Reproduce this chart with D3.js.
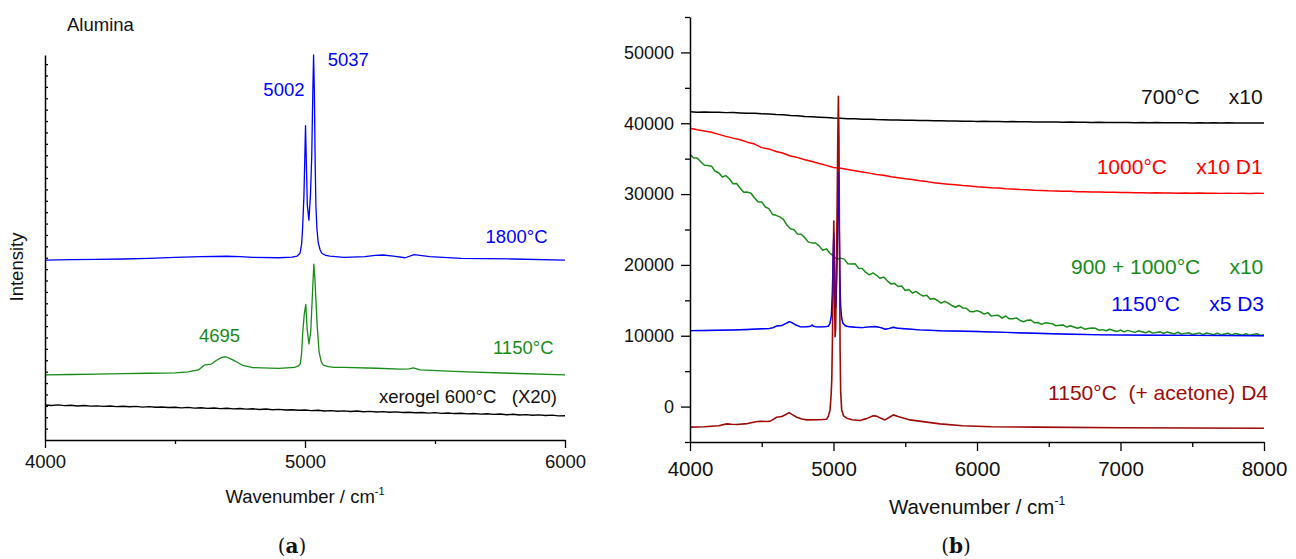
<!DOCTYPE html>
<html>
<head>
<meta charset="utf-8">
<script src="https://cdn.jsdelivr.net/npm/d3@7"></script>
<style>
  body { margin: 0; background: #fff; }
  svg { font-family: "Liberation Sans", Arial, sans-serif; }
  .lbl { white-space: pre; }
</style>
</head>
<body>
<div id="chart"></div>
<script>
// ---------- data, panel (a): Alumina, arbitrary intensity ----------
const ticksA = [4000, 5000, 6000];
const minorA = [4500, 5500];
const a1800 = [[4000,15.80],[4100,15.83],[4200,15.86],[4300,15.89],[4400,15.95],[4500,16.04],[4600,16.10],
  [4700,16.13],[4750,16.10],[4800,16.04],[4900,16.00],[4950,16.05],[4970,16.15],[4981,16.4],[4987,17.2],
  [4991,18.7],[4996,21.5],[5000,25.5],[5002,27.6],[5005,24.5],[5009,20.6],[5015,19.3],[5021,21.5],[5026,25.0],
  [5030,30.5],[5033,33.8],[5036,30.5],[5039,24.5],[5042,20.5],[5046,18.5],[5051,17.3],[5058,16.7],[5064,16.42],
  [5080,16.2],[5096,16.15],[5150,16.04],[5230,16.10],[5270,16.20],[5300,16.24],[5340,16.15],[5385,16.00],
  [5420,16.27],[5480,16.10],[5600,15.95],[5800,15.89],[6000,15.80]];
const a1150 = [[4000,5.71],[4100,5.75],[4200,5.79],[4300,5.82],[4400,5.86],[4500,5.90],[4550,5.98],[4590,6.15],
  [4615,6.60],[4640,6.67],[4660,7.00],[4680,7.25],[4695,7.31],[4712,7.15],[4730,6.94],[4760,6.56],[4800,6.35],
  [4900,6.29],[4960,6.38],[4975,6.50],[4982,6.70],[4987,7.6],[4991,9.37],[4997,11.0],[5003,11.91],[5008,9.8],
  [5015,8.43],[5022,9.5],[5028,12.5],[5034,15.43],[5038,14.2],[5042,12.3],[5047,10.0],[5054,7.75],[5062,6.9],
  [5070,6.58],[5090,6.45],[5110,6.38],[5150,6.38],[5276,6.30],[5365,6.23],[5400,6.25],[5417,6.33],[5442,6.15],
  [5596,6.00],[5788,5.86],[6000,5.71]];
// xerogel 600 °C (x20), sampled every 25 cm-1 from 4000
const a600 = [3.07,3.03,3.08,3.02,3.05,2.99,3.03,2.97,3.00,2.95,2.99,2.93,2.96,2.92,2.95,2.89,2.93,2.87,2.90,2.85,
  2.88,2.82,2.86,2.80,2.83,2.78,2.81,2.75,2.79,2.73,2.76,2.71,2.74,2.68,2.72,2.66,2.69,2.63,2.66,2.61,
  2.63,2.58,2.61,2.55,2.58,2.53,2.56,2.50,2.54,2.48,2.51,2.46,2.49,2.43,2.47,2.41,2.44,2.39,2.42,2.36,
  2.40,2.34,2.37,2.32,2.35,2.29,2.33,2.27,2.30,2.25,2.28,2.22,2.26,2.20,2.23,2.17,2.21,2.15,2.18,2.12,2.13];

// ---------- data, panel (b) ----------
const ticksB = [4000, 5000, 6000, 7000, 8000];
const minorB = [4500, 5500, 6500, 7500];
const yTicksB = [0, 10000, 20000, 30000, 40000, 50000];
const yMinorB = [-5000, 5000, 15000, 25000, 35000, 45000, 55000];
// 700 °C x10, every 50 cm-1
const b700 = [41620,41570,41600,41540,41560,41500,41520,41460,41420,41400,41330,41300,41230,41190,41100,41060,
  40960,40920,40850,40800,40740,40720,40650,40640,40580,40570,40520,40510,40460,40470,40420,40430,40380,40390,
  40340,40360,40320,40330,40290,40300,40260,40280,40240,40250,40210,40230,40200,40210,40180,40190,40160,40180,
  40140,40160,40130,40140,40110,40130,40100,40120,40090,40110,40080,40100,40070,40090,40060,40080,40060,40070,
  40050,40070,40050,40060,40040,40060,40040,40050,40030,40050,40040];
// 1000 °C x10 D1, every 50 cm-1
const b1000 = [39300,39080,38900,38720,38430,38150,37900,37680,37330,37060,36560,36380,36020,35760,35370,35150,
  34850,34600,34310,34050,33760,33640,33460,33280,33110,32960,32780,32650,32460,32320,32160,32050,31880,31760,
  31600,31510,31400,31310,31200,31130,31030,30980,30890,30850,30760,30720,30640,30610,30540,30520,30460,30450,
  30390,30390,30340,30340,30290,30300,30250,30260,30220,30230,30190,30200,30170,30180,30150,30160,30130,30150,
  30120,30140,30110,30130,30100,30120,30100,30110,30090,30110,30100];
// 900 + 1000 °C x10, every 25 cm-1
const b900 = [35600,35090,35080,34570,34060,34050,33940,33230,33020,32410,32600,32130,31460,31490,30820,30250,
  30280,30110,29440,28870,28900,28175,27950,27125,27000,26775,26450,25625,25100,24975,24350,24340,23830,23220,
  23110,23100,22690,22080,22270,21660,21250,20805,20960,20815,20170,20125,20180,19535,19490,18945,18600,18870,
  18540,18110,18280,17750,17320,17390,16960,17030,16400,
  16520,16040,16260,15880,15600,15720,15140,15260,14980,14600,14855,14610,14265,14020,14275,13930,13885,13440,
  13395,13550,13355,13060,13265,12770,12875,12880,12485,12790,12395,12400,12525,12150,11975,12200,12225,11850,
  11875,11600,11825,11750,
  11710,11410,11470,11530,11230,11410,11230,11050,11230,10930,11013,11096,11059,10782,10865,10708,10911,10754,
  10597,10800,10539,10758,10617,10476,10695,10554,10413,10632,10371,10470,10573,10316,10539,10402,10265,10488,
  10231,10334,10437,10180,10292,10405,10157,10390,10262,10135,10367,10120,10240,10352,10097,10330,10202,10075,
  10307,10060,10172,10285,10037,10150];
// 1150 °C x5 D3
const b1150 = [[4000,10720],[4100,10740],[4200,10780],[4300,10820],[4400,10880],[4500,10980],[4550,11000],
  [4580,11150],[4604,11380],[4640,11450],[4670,11750],[4692,11990],[4710,11850],[4740,11500],[4767,11280],
  [4800,11250],[4830,11300],[4845,11400],[4852,11520],[4860,11350],[4880,11250],[4920,11250],[4950,11300],
  [4964,11350],[4975,11700],[4985,12800],[4992,16000],[4997,21000],[5002,24500],[5006,21000],[5011,15500],
  [5015,14000],[5020,16000],[5026,22000],[5031,29000],[5035,33000],[5039,28000],[5044,19000],[5050,14000],
  [5057,12500],[5065,11800],[5080,11450],[5100,11300],[5150,11200],[5200,11150],[5250,11250],[5290,11300],
  [5330,11150],[5360,10920],[5390,11050],[5417,11200],[5450,11050],[5500,10980],[5600,10830],[5750,10700],
  [6000,10600],[6200,10470],[6400,10350],[6650,10220],[6900,10120],[7200,10080],[7500,10050],[7800,10030],[8000,10010]];
// 1150 °C (+ acetone) D4
const b1150ac = [[4000,-2900],[4100,-2850],[4200,-2700],[4256,-2440],[4290,-2500],[4325,-2540],[4400,-2400],
  [4460,-2150],[4488,-2060],[4530,-2100],[4557,-2080],[4580,-1800],[4604,-1500],[4640,-1400],[4665,-1150],
  [4690,-850],[4710,-1100],[4744,-1500],[4780,-1750],[4814,-1880],[4900,-1850],[4953,-1780],[4965,-1300],
  [4976,-470],[4983,1500],[4988,3760],[4993,10000],[4998,20000],[5002,26190],[5005,22000],[5008,15000],
  [5011,9870],[5015,11000],[5020,18000],[5025,28000],[5030,38000],[5034,43820],[5038,38000],[5042,22000],
  [5046,8000],[5050,2000],[5057,-470],[5070,-1300],[5092,-1640],[5130,-1850],[5184,-1970],[5230,-1700],
  [5277,-1310],[5300,-1350],[5330,-1650],[5359,-1880],[5390,-1500],[5417,-1170],[5450,-1400],[5533,-1880],
  [5650,-2200],[5742,-2440],[5900,-2700],[6100,-2850],[6400,-2900],[7000,-2980],[8000,-3050]];

const BLUE = "#0000ff", GREEN = "#178c17", RED = "#ff0000", WINE = "#9e0a0a";

// ---------- page ----------
const svg = d3.select("#chart").append("svg")
    .attr("width", 1296)
    .attr("height", 559);

function styleAxis(g, fs) {
    g.attr("font-family", null).attr("font-size", null);
    g.select(".domain").attr("stroke", "#000").attr("stroke-width", 1.5);
    g.selectAll(".tick line").attr("stroke", "#000").attr("stroke-width", 1.3);
    g.selectAll(".tick text").attr("fill", "#111").style("font-size", fs + "px");
}

function addLine(parent, data, x, y, color, width) {
    return parent.append("path")
        .datum(data)
        .attr("fill", "none")
        .attr("stroke", color)
        .attr("stroke-width", width)
        .attr("stroke-linejoin", "round")
        .attr("d", d3.line().x(d => x(d[0])).y(d => y(d[1])));
}

function addText(parent, x, y, str, color, fs, anchor) {
    return parent.append("text")
        .attr("class", "lbl")
        .attr("x", x)
        .attr("y", y)
        .attr("fill", color)
        .attr("text-anchor", anchor || "start")
        .style("font-size", fs + "px")
        .text(str);
}

//===== panel (a) =====
const xA = d3.scaleLinear().domain([4000, 6000]).range([45, 565]);
const yA = d3.scaleLinear().domain([0, 33.8]).range([440, 55]);
const fsA = 18.5;

const gA = svg.append("g").attr("id", "panel-a");

addLine(gA, d3.zip(d3.range(4000, 6001, 25), a600), xA, yA, "#000", 1.4);
addLine(gA, a1150, xA, yA, GREEN, 1.3);
addLine(gA, a1800, xA, yA, BLUE, 1.3);

gA.append("g").attr("transform", "translate(0,440)")
    .call(d3.axisBottom(xA).tickValues(minorA).tickSize(4).tickFormat(""))
    .call(g => styleAxis(g, fsA))
    .select(".domain").remove();
gA.append("g").attr("transform", "translate(0,440)")
    .call(d3.axisBottom(xA).tickValues(ticksA).tickSize(8).tickPadding(7).tickSizeOuter(0).tickFormat(d3.format("d")))
    .call(g => styleAxis(g, fsA));
gA.append("g").attr("transform", "translate(45,0)")
    .call(d3.axisLeft(yA).tickValues(d3.range(1, 34)).tickSize(-3).tickSizeOuter(0).tickFormat(""))
    .call(g => styleAxis(g, fsA));

addText(gA, 67, 30.6, "Alumina", "#111", fsA);
addText(gA, 304.5, 95.9, "5002", BLUE, fsA, "end");
addText(gA, 327.7, 65.9, "5037", BLUE, fsA);
addText(gA, 547.5, 243.3, "1800°C", BLUE, fsA, "end");
addText(gA, 219.5, 341.6, "4695", GREEN, fsA, "middle");
addText(gA, 553.5, 353.9, "1150°C", GREEN, fsA, "end");
addText(gA, 557, 403.3, "xerogel 600°C   (X20)", "#111", fsA, "end");

gA.append("text")
    .attr("transform", "translate(23,267) rotate(-90)")
    .attr("text-anchor", "middle")
    .attr("fill", "#111")
    .style("font-size", fsA + "px")
    .text("Intensity");

const titleA = addText(gA, 305, 503, "Wavenumber / cm", "#111", fsA, "middle");
titleA.append("tspan").attr("dy", -8).style("font-size", "11px").text("-1");

//===== panel (b) =====
const xB = d3.scaleLinear().domain([4000, 8000]).range([690, 1264]);
const yB = d3.scaleLinear().domain([-5000, 55000]).range([442, 17]);
const fsB = 20.5;

const gB = svg.append("g").attr("id", "panel-b");

addLine(gB, d3.zip(d3.range(4000, 8001, 50), b700), xB, yB, "#000", 1.5);
addLine(gB, d3.zip(d3.range(4000, 8001, 50), b1000), xB, yB, RED, 1.5);
addLine(gB, d3.zip(d3.range(4000, 8001, 25), b900), xB, yB, GREEN, 1.5);
addLine(gB, b1150, xB, yB, BLUE, 1.4);
addLine(gB, b1150ac, xB, yB, WINE, 1.6);
// blue shows through the wine peaks in the original
addLine(gB, b1150, xB, yB, BLUE, 1.3).attr("stroke-opacity", 0.4);

gB.append("g").attr("transform", "translate(0,442)")
    .call(d3.axisBottom(xB).tickValues(minorB).tickSize(5).tickFormat(""))
    .call(g => styleAxis(g, fsB))
    .select(".domain").remove();
gB.append("g").attr("transform", "translate(0,442)")
    .call(d3.axisBottom(xB).tickValues(ticksB).tickSize(9).tickPadding(10).tickSizeOuter(0).tickFormat(d3.format("d")))
    .call(g => styleAxis(g, fsB));
gB.append("g").attr("transform", "translate(690,0)")
    .call(d3.axisLeft(yB).tickValues(yMinorB).tickSize(5).tickFormat(""))
    .call(g => styleAxis(g, fsB))
    .select(".domain").remove();
gB.append("g").attr("transform", "translate(690,0)")
    .call(d3.axisLeft(yB).tickValues(yTicksB).tickSize(9).tickPadding(7).tickSizeOuter(0).tickFormat(d3.format("d")))
    .call(g => styleAxis(g, 18));

const fsL = 21;
addText(gB, 1262.7, 104.2, "700°C     x10", "#111", fsL, "end");
addText(gB, 1262.7, 174.2, "1000°C     x10 D1", RED, fsL, "end");
addText(gB, 1263.3, 274.2, "900 + 1000°C     x10", GREEN, fsL, "end");
addText(gB, 1264, 310.8, "1150°C     x5 D3", BLUE, fsL, "end");
addText(gB, 1268, 399.8, "1150°C  (+ acetone) D4", WINE, fsL, "end");

const titleB = addText(gB, 977, 514, "Wavenumber / cm", "#111", fsB, "middle");
titleB.append("tspan").attr("dy", -9).style("font-size", "12px").text("-1");

//===== sub-figure letters =====
[["a", 292], ["b", 956]].forEach(function (p) {
    const t = svg.append("text")
        .attr("x", p[1])
        .attr("y", 553)
        .attr("text-anchor", "middle")
        .attr("fill", "#111")
        .style("font-family", "'DejaVu Serif', 'Liberation Serif', serif")
        .style("font-size", "20px");
    t.append("tspan").text("(");
    t.append("tspan").style("font-weight", "bold").text(p[0]);
    t.append("tspan").text(")");
});
</script>
</body>
</html>
